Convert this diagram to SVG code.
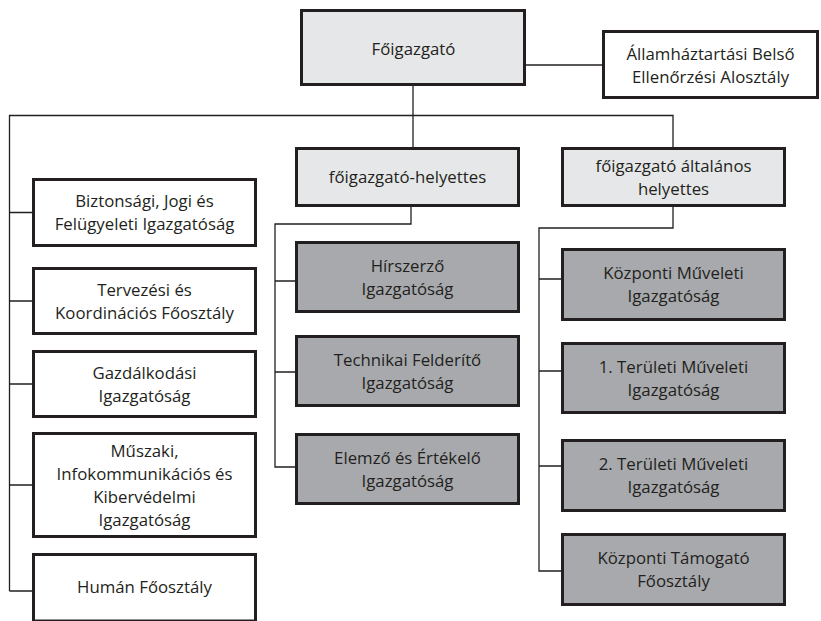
<svg xmlns="http://www.w3.org/2000/svg" width="821" height="621" viewBox="0 0 821 621">
<style>
.box{stroke:#231f20;stroke-width:3}
.w{fill:#ffffff}
.l{fill:#e6e7e8}
.d{fill:#a7a9ac}
text{font-family:"Open Sans","Liberation Sans",sans-serif;font-size:16.8px;fill:#231f20;text-anchor:middle}
.conn{fill:none;stroke:#231f20;stroke-width:1.3}
</style>
<rect width="821" height="621" fill="#ffffff"/>
<g id="connectors" class="conn">
<path d="M526 65H602"/>
<path d="M413 85V147"/>
<path d="M9.5 591V115.5H673V147"/>
<path d="M9.5 212.5H32M9.5 301H32M9.5 384H32M9.5 485H32M9.5 591H32"/>
<path d="M411 207V224H275V467H295M275 281H295M275 372H295"/>
<path d="M673 207V228H539V571H561M539 279H561M539 371H561M539 466H561"/>
</g>
<g id="foigazgato"><rect class="box l" x="301.5" y="10.5" width="223" height="74"/><text x="413.5" y="55">Főigazgató</text></g>
<g id="belso-ellenorzes"><rect class="box w" x="603.5" y="31.5" width="214" height="66"/><text x="710.5" y="59.5">Államháztartási Belső</text><text x="710.5" y="82.5">Ellenőrzési Alosztály</text></g>
<g id="foigazgato-helyettes"><rect class="box l" x="296.5" y="148.5" width="222" height="57"/><text x="407.5" y="183">főigazgató-helyettes</text></g>
<g id="altalanos-helyettes"><rect class="box l" x="562.5" y="148.5" width="222" height="57"/><text x="673.5" y="171.5">főigazgató általános</text><text x="673.5" y="194.5">helyettes</text></g>
<g id="biztonsagi"><rect class="box w" x="33.5" y="179.5" width="222" height="66"/><text x="144.5" y="207">Biztonsági, Jogi és</text><text x="144.5" y="230">Felügyeleti Igazgatóság</text></g>
<g id="tervezesi"><rect class="box w" x="33.5" y="268.5" width="222" height="65"/><text x="144.5" y="296">Tervezési és</text><text x="144.5" y="319">Koordinációs Főosztály</text></g>
<g id="gazdalkodasi"><rect class="box w" x="33.5" y="351.5" width="222" height="65"/><text x="144.5" y="379">Gazdálkodási</text><text x="144.5" y="402">Igazgatóság</text></g>
<g id="muszaki"><rect class="box w" x="33.5" y="433.5" width="222" height="103"/><text x="144.5" y="456.5">Műszaki,</text><text x="144.5" y="479.5">Infokommunikációs és</text><text x="144.5" y="502.5">Kibervédelmi</text><text x="144.5" y="525.5">Igazgatóság</text></g>
<g id="human"><rect class="box w" x="33.5" y="554.5" width="222" height="66.5"/><text x="144.5" y="592.5">Humán Főosztály</text></g>
<g id="hirszerzo"><rect class="box d" x="296.5" y="242.5" width="222" height="69"/><text x="407.5" y="271.5">Hírszerző</text><text x="407.5" y="294.5">Igazgatóság</text></g>
<g id="technikai"><rect class="box d" x="296.5" y="336.5" width="222" height="69"/><text x="407.5" y="365.5">Technikai Felderítő</text><text x="407.5" y="388.5">Igazgatóság</text></g>
<g id="elemzo"><rect class="box d" x="296.5" y="434.5" width="222" height="69"/><text x="407.5" y="463.5">Elemző és Értékelő</text><text x="407.5" y="486.5">Igazgatóság</text></g>
<g id="kozponti-muveleti"><rect class="box d" x="562.5" y="249.5" width="222" height="70"/><text x="673.5" y="279">Központi Műveleti</text><text x="673.5" y="302">Igazgatóság</text></g>
<g id="teruleti-1"><rect class="box d" x="562.5" y="343.5" width="222" height="69"/><text x="673.5" y="372.5">1. Területi Műveleti</text><text x="673.5" y="395.5">Igazgatóság</text></g>
<g id="teruleti-2"><rect class="box d" x="562.5" y="440.5" width="222" height="70"/><text x="673.5" y="470">2. Területi Műveleti</text><text x="673.5" y="493">Igazgatóság</text></g>
<g id="kozponti-tamogato"><rect class="box d" x="562.5" y="534.5" width="222" height="70"/><text x="673.5" y="564">Központi Támogató</text><text x="673.5" y="587">Főosztály</text></g>
</svg>
